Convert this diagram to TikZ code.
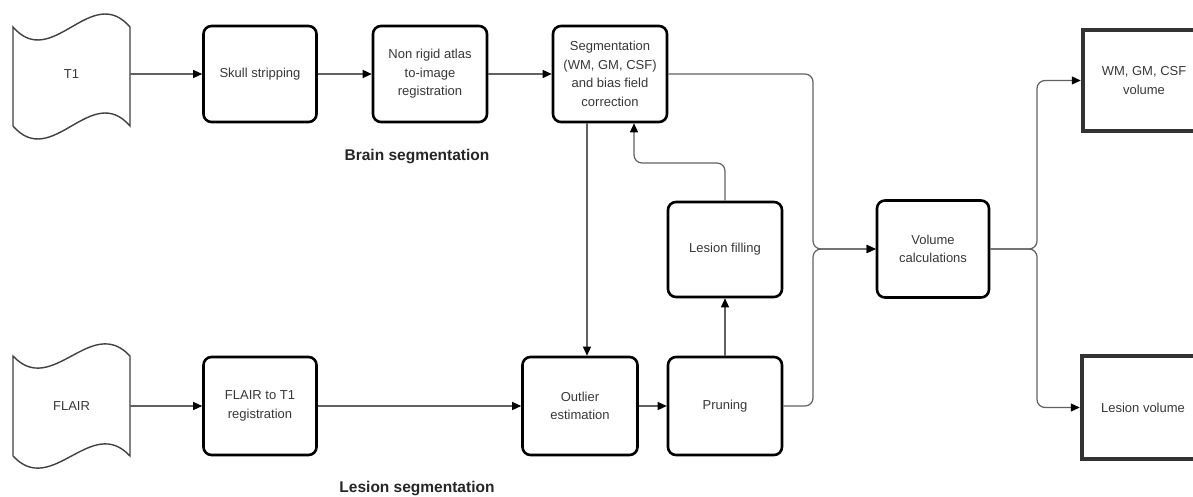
\documentclass[tikz,border=0pt]{standalone}
\usepackage{fontspec}
\setmainfont{Liberation Sans}
\usetikzlibrary{arrows.meta}
\definecolor{txt}{gray}{0.22}
\definecolor{conn}{gray}{0.38}
\tikzset{
  proc/.style={draw=black, line width=2.6pt, rounded corners=8pt, fill=white,
    align=center, text=txt, font=\fontsize{13}{18.5}\selectfont, inner sep=2pt},
  outbox/.style={draw=black!80, line width=4.5pt, fill=white, align=center,
    text=txt, font=\fontsize{13}{18.5}\selectfont},
  tapelbl/.style={draw=none, text=txt, font=\fontsize{13}{18.5}\selectfont,
    minimum width=117pt, minimum height=100pt},
  tape/.style={draw=black!75, line width=1.4pt},
  conn/.style={draw=conn, line width=1.2pt, rounded corners=8pt},
  arr/.style={conn, -{Triangle[length=9pt,width=8pt,color=black]}},
  grplbl/.style={font=\bfseries\fontsize{15.5}{18}\selectfont, text=black!85}
}
\begin{document}
\begin{tikzpicture}[x=1pt,y=-1pt]
\clip (0,0) rectangle (1193,497);
\fill[white] (0,0) rectangle (1193,497);
% tapes
\draw[tape] (13,27) .. controls (52,72) and (91,-18) .. (130,27)
  -- (130,126) .. controls (91,81) and (52,171) .. (13,126) -- cycle;
\node[tapelbl] (t1) at (71.5,74) {T1};
\draw[tape] (13,356) .. controls (52,398) and (91,314) .. (130,356)
  -- (130,456) .. controls (91,414) and (52,498) .. (13,456) -- cycle;
\node[tapelbl] (flair) at (71.5,406) {FLAIR};
% boxes
\node[proc, minimum width=113pt, minimum height=96pt] (skull) at (260,74) {Skull stripping};
\node[proc, minimum width=114pt, minimum height=96pt] (nonrigid) at (430,74) {Non rigid atlas\\to-image\\registration};
\node[proc, minimum width=114pt, minimum height=96pt] (seg) at (610,74) {Segmentation\\(WM, GM, CSF)\\and bias field\\correction};
\node[proc, minimum width=113pt, minimum height=98pt] (f2t1) at (260,406) {FLAIR to T1\\registration};
\node[proc, minimum width=115pt, minimum height=98pt] (outlier) at (580,406) {Outlier\\estimation};
\node[proc, minimum width=114pt, minimum height=98pt] (pruning) at (725,406) {Pruning};
\node[proc, minimum width=114pt, minimum height=95pt] (lesfill) at (725,249.5) {Lesion filling};
\node[proc, minimum width=112pt, minimum height=97pt] (volcalc) at (933,249) {Volume\\calculations};
\node[outbox, minimum width=122pt, minimum height=101pt] (wmvol) at (1144,80.5) {WM, GM, CSF\\volume};
\node[outbox, minimum width=122pt, minimum height=103pt] (lesvol) at (1143,407.5) {Lesion volume};
% labels
\node[grplbl] (brainlbl) at (417,157) {Brain segmentation};
\node[grplbl] (leslbl) at (417,489) {Lesion segmentation};
% connectors
\draw[arr] (t1.east) -- (skull.west);
\draw[arr] (skull.east) -- (nonrigid.west);
\draw[arr] (nonrigid.east) -- (seg.west);
\draw[arr] (flair.east) -- (f2t1.west);
\draw[arr] (f2t1.east) -- (outlier.west);
\draw[arr] (outlier.east) -- (pruning.west);
\draw[arr] ([xshift=-23pt]seg.south) -- ([xshift=-23pt]seg.south |- outlier.north);
\draw[arr] (pruning.north) -- (lesfill.south);
\coordinate (lfup) at (725,163);
\coordinate (lfleft) at (634,163);
\draw[arr] (lesfill.north) -- (lfup) -- (lfleft) -- ([xshift=24pt]seg.south);
\coordinate (j1a) at (813,74);
\coordinate (j1b) at (813,249);
\coordinate (j1c) at (813,406);
\draw[arr] (seg.east) -- (j1a) -- (j1b) -- (volcalc.west);
\draw[arr] (pruning.east) -- (j1c) -- (j1b) -- (volcalc.west);
\coordinate (j2) at (1037,249);
\coordinate (j2a) at (1037,80.5);
\coordinate (j2b) at (1037,407.5);
\draw[arr] (volcalc.east) -- (j2) -- (j2a) -- (wmvol.west);
\draw[arr] (volcalc.east) -- (j2) -- (j2b) -- (lesvol.west);
\end{tikzpicture}
\end{document}
